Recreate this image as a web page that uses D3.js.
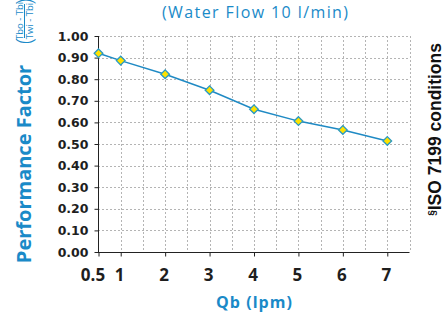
<!DOCTYPE html>
<html>
<head>
<meta charset="utf-8">
<script src="https://cdn.jsdelivr.net/npm/d3@7"></script>
<style>
  body { margin: 0; background: #fff; }
  svg { display: block; }
</style>
</head>
<body>
<div id="chart"></div>
<script>
// values
var flow = [0.5, 1, 2, 3, 4, 5, 6, 7];
var factor = [0.92, 0.886, 0.823, 0.749, 0.661, 0.606, 0.565, 0.514];
var xTicks = [0.5, 1, 2, 3, 4, 5, 6, 7];
var yTicks = [0, 0.1, 0.2, 0.3, 0.4, 0.5, 0.6, 0.7, 0.8, 0.9, 1.0];
var xGrid = [1, 1.5, 2, 2.5, 3, 3.5, 4, 4.5, 5, 5.5, 6, 6.5, 7, 7.5];

function draw() {
    var width = 443,
        height = 315,
        plotLeft = 98, plotRight = 409.5, plotTop = 36, plotBottom = 252,
        blue = "#1a8ac8";

    var svg = d3.select("#chart").append("svg")
        .attr("width", width)
        .attr("height", height);

    var x = d3.scaleLinear().domain([0.5, 7.5]).range([plotLeft + 0.5, plotRight]);
    var y = d3.scaleLinear().domain([0, 1]).range([plotBottom, plotTop]);

    // dotted grid
    var grid = svg.append("g")
        .attr("stroke", "#b4b4b4")
        .attr("stroke-width", 1)
        .attr("stroke-dasharray", "2,2");

    grid.selectAll("line.h")
        .data(yTicks.slice(1))
        .enter().append("line")
        .attr("x1", plotLeft).attr("x2", plotRight)
        .attr("y1", function(d) { return Math.round(y(d)) + 0.5; })
        .attr("y2", function(d) { return Math.round(y(d)) + 0.5; });

    grid.selectAll("line.v")
        .data(xGrid)
        .enter().append("line")
        .attr("x1", function(d) { return Math.round(x(d)) + 0.5; })
        .attr("x2", function(d) { return Math.round(x(d)) + 0.5; })
        .attr("y1", plotTop).attr("y2", plotBottom);

    // axes
    var yAxis = d3.axisLeft(y)
        .tickValues(yTicks)
        .tickFormat(d3.format(".2f"))
        .tickSize(4)
        .tickPadding(6);

    var gy = svg.append("g")
        .attr("transform", "translate(" + (plotLeft + 0.5) + ",0)")
        .call(yAxis);
    gy.select(".domain").attr("d", "M0," + plotTop + "V" + plotBottom).attr("stroke", "#222");
    gy.selectAll(".tick line").attr("stroke", "#222");
    gy.selectAll(".tick text")
        .attr("fill", "#1e1e1e")
        .style("font-family", "'DejaVu Sans', sans-serif")
        .style("font-weight", "bold")
        .style("font-size", "12.5px");

    var xAxis = d3.axisBottom(x)
        .tickValues(xTicks)
        .tickFormat(function(d) { return d === 0.5 ? "0.5" : d3.format("d")(d); })
        .tickSize(4)
        .tickPadding(12);

    var gx = svg.append("g")
        .attr("transform", "translate(0," + (plotBottom + 0.5) + ")")
        .call(xAxis);
    gx.select(".domain").attr("d", "M" + plotLeft + ",0H" + plotRight).attr("stroke", "#222");
    gx.selectAll(".tick line").attr("stroke", "#222");
    gx.selectAll(".tick text")
        .attr("fill", "#1e1e1e")
        .attr("dx", function(d) { return d === 0.5 ? -6 : -1.5; })
        .style("font-family", "'Open Sans', sans-serif")
        .style("font-weight", "bold")
        .style("font-size", "17px");

    // series
    var pts = flow.map(function(d, i) { return [d, factor[i]]; });

    svg.append("path")
        .datum(pts)
        .attr("fill", "none")
        .attr("stroke", "#1f8ac4")
        .attr("stroke-width", 1.5)
        .attr("d", d3.line()
            .x(function(d) { return x(d[0]); })
            .y(function(d) { return y(d[1]); }));

    svg.append("g").selectAll("path")
        .data(pts)
        .enter().append("path")
        .attr("d", d3.symbol().type(d3.symbolDiamond2).size(48))
        .attr("transform", function(d) { return "translate(" + x(d[0]) + "," + y(d[1]) + ")"; })
        .attr("fill", "#ffe200")
        .attr("stroke", "#2a9ac2")
        .attr("stroke-width", 1.3);

    // texts
    svg.append("text")
        .attr("x", 255).attr("y", 17.5)
        .attr("text-anchor", "middle")
        .attr("textLength", 186)
        .attr("lengthAdjust", "spacing")
        .attr("fill", blue)
        .style("font-family", "'Open Sans', sans-serif")
        .style("font-size", "16px")
        .text("(Water Flow 10 l/min)");

    svg.append("text")
        .attr("x", 254).attr("y", 307.5)
        .attr("text-anchor", "middle")
        .attr("textLength", 76)
        .attr("lengthAdjust", "spacing")
        .attr("fill", blue)
        .style("font-family", "'Open Sans', sans-serif")
        .style("font-weight", "bold")
        .style("font-size", "16px")
        .text("Qb (lpm)");

    svg.append("text")
        .attr("transform", "translate(31,164) rotate(-90)")
        .attr("text-anchor", "middle")
        .attr("fill", blue)
        .style("font-family", "'Open Sans', sans-serif")
        .style("font-weight", "bold")
        .style("font-size", "20px")
        .text("Performance Factor");

    // fraction (Tbo - Tbi)/(Twi - Tbi)
    var frac = svg.append("g")
        .attr("transform", "translate(24.5,21) rotate(-90)")
        .attr("fill", blue)
        .style("font-family", "'Open Sans', sans-serif")
        .style("font-size", "9.5px");
    frac.append("text").attr("y", -2).attr("text-anchor", "middle").text("Tbo - Tbi");
    frac.append("text").attr("y", 8.5).attr("text-anchor", "middle").text("Twi - Tbi");
    frac.append("line")
        .attr("x1", -17).attr("x2", 17)
        .attr("stroke", blue).attr("stroke-width", 1);
    frac.append("text").attr("x", -20).attr("y", 7).attr("text-anchor", "middle")
        .style("font-size", "22px").style("font-weight", "300").text("(");
    frac.append("text").attr("x", 19.5).attr("y", 7).attr("text-anchor", "middle")
        .style("font-size", "22px").style("font-weight", "300").text(")");

    // side note
    var note = svg.append("text")
        .attr("transform", "translate(441,43) rotate(-90)")
        .attr("text-anchor", "end")
        .attr("fill", "#111")
        .style("font-family", "'Liberation Sans', Arial, sans-serif")
        .style("font-weight", "bold")
        .style("font-size", "17.5px");
    note.append("tspan")
        .attr("baseline-shift", "super")
        .style("font-size", "10px")
        .text("§");
    note.append("tspan").text("ISO 7199 conditions");
}

draw();
</script>
</body>
</html>
